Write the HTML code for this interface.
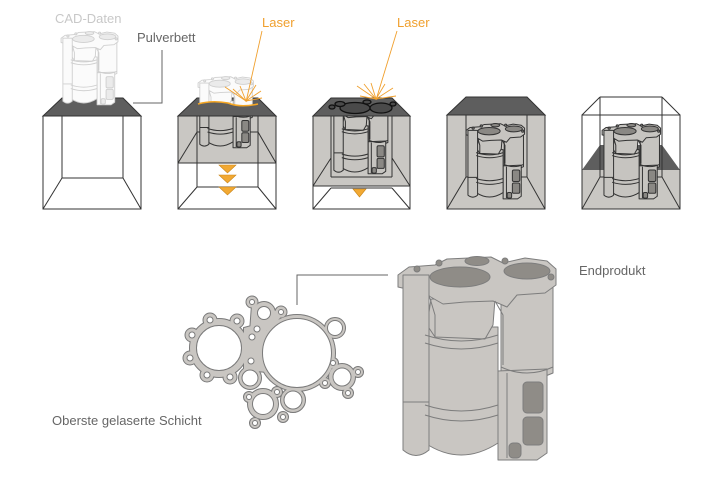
<!DOCTYPE html>
<html><head><meta charset="utf-8"><style>
html,body{margin:0;padding:0;background:#fff;}
svg{display:block;}
text{font-family:"Liberation Sans",Arial,sans-serif;font-size:13px;}
</style></head><body>
<svg width="720" height="480" viewBox="0 0 720 480" xmlns="http://www.w3.org/2000/svg">
<defs>
<g id="part" stroke-linejoin="round">
  <path d="M106,22 L106,118 Q132,130 158,118 L158,22 Z"/>
  <path d="M103,116 L152,114 L152,198 L142,205 L103,205 Z"/>
  <path d="M30,72 L30,188 Q66,212 103,188 L103,72 Z"/>
  <path d="M36,44 L100,44 L98,70 L90,84 L40,82 L32,70 Z"/>
  <path d="M3,20 L14,12 L40,10 L52,4 L96,2 L108,8 L130,3 L152,6 L161,14 L161,30 L150,38 L122,40 L112,52 L98,46 L70,47 L48,49 L34,41 L20,36 L3,32 Z"/>
  <path d="M8,20 L34,20 L34,195 Q21,206 8,195 Z"/>
  <path fill="none" d="M30,80 Q66,92 103,80 M30,88 Q66,100 103,88 M30,150 Q66,162 103,150 M30,160 Q66,172 103,160 M8,147 L34,147 M106,112 Q132,124 158,112 M112,118 L112,203 M34,40 L40,60 L40,82 M100,46 L108,60 L108,110"/>
  <ellipse cx="65" cy="22" rx="30" ry="10" style="fill:var(--dk)"/>
  <ellipse cx="132" cy="16" rx="23" ry="8" style="fill:var(--dk)"/>
  <ellipse cx="82" cy="6" rx="12" ry="4.5" style="fill:var(--dk)"/>
  <rect x="128" y="127" width="20" height="31" rx="4" style="fill:var(--dk)"/>
  <rect x="128" y="162" width="20" height="28" rx="4" style="fill:var(--dk)"/>
  <rect x="114" y="188" width="12" height="15" rx="4" style="fill:var(--dk)"/>
  <circle cx="22" cy="14" r="3" style="fill:var(--dk)"/>
  <circle cx="44" cy="8" r="3" style="fill:var(--dk)"/>
  <circle cx="110" cy="6" r="3" style="fill:var(--dk)"/>
  <circle cx="156" cy="22" r="3" style="fill:var(--dk)"/>
</g>
<clipPath id="c2top"><path d="M170,0 H290 V104 Q270,100 258,104 Q240,108 228,103 Q212,100 198,104 H170 Z"/></clipPath>
<clipPath id="c2in"><rect x="178" y="116" width="98" height="47"/></clipPath>
<clipPath id="c3in"><rect x="313" y="116" width="97" height="70"/></clipPath>
</defs>

<!-- Texts -->
<text x="55" y="23" fill="#c8c8c8">CAD-Daten</text>
<text x="137" y="42" fill="#666">Pulverbett</text>
<text x="262" y="27" fill="#f0a02e">Laser</text>
<text x="397" y="27" fill="#f0a02e">Laser</text>
<text x="579" y="275" fill="#666">Endprodukt</text>
<text x="52" y="425" fill="#666">Oberste gelaserte Schicht</text>

<!-- Pulverbett connector -->
<polyline points="133,103 162,103 162,50" fill="none" stroke="#666" stroke-width="1"/>

<!-- BOX 1 -->
<g stroke="#333" stroke-width="1" fill="none">
  <rect x="43" y="116" width="98" height="93" fill="#fff"/>
  <line x1="62" y1="116" x2="62" y2="178"/><line x1="123" y1="116" x2="123" y2="178"/>
  <line x1="62" y1="178" x2="123" y2="178"/>
  <line x1="43" y1="209" x2="62" y2="178"/><line x1="141" y1="209" x2="123" y2="178"/>
  <polygon points="62,98 123,98 141,116 43,116" fill="#5e5e5e"/>
</g>
<use href="#part" transform="translate(60,31) scale(0.36)" fill="#fbfbfb" stroke="#cfcfcf" stroke-width="2.5" style="--dk:#ebebeb"/>

<!-- BOX 2 -->
<g stroke="#333" stroke-width="1" fill="none">
  <rect x="178" y="116" width="98" height="93" fill="#fff"/>
  <rect x="178" y="116" width="98" height="47" fill="#c9c7c3" stroke="none"/>
  <line x1="197" y1="116" x2="197" y2="187"/><line x1="258" y1="116" x2="258" y2="187"/>
  <line x1="197" y1="132" x2="258" y2="132"/>
  <line x1="178" y1="163" x2="197" y2="132"/><line x1="276" y1="163" x2="258" y2="132"/>
  <line x1="178" y1="163" x2="276" y2="163"/>
  <line x1="197" y1="187" x2="258" y2="187"/>
  <line x1="178" y1="209" x2="197" y2="187"/><line x1="276" y1="209" x2="258" y2="187"/>
</g>
<g clip-path="url(#c2in)">
  <use href="#part" transform="translate(197,76) scale(0.35)" fill="#c6c4c0" stroke="#333" stroke-width="2.8" style="--dk:#8a8884"/>
</g>
<rect x="178" y="116" width="98" height="93" fill="none" stroke="#333"/>
<polygon points="197,98 258,98 276,116 178,116" fill="#5e5e5e" stroke="#333"/>
<g clip-path="url(#c2top)">
  <use href="#part" transform="translate(197,76) scale(0.35)" fill="#fbfbfb" stroke="#cfcfcf" stroke-width="2.5" style="--dk:#ebebeb"/>
</g>
<path d="M198,104 Q212,100 228,103 Q240,108 258,104" fill="none" stroke="#f5a623" stroke-width="1.5"/>
<g fill="#f2a933" stroke="#c98518" stroke-width="0.6">
  <polygon points="219,165 236,165 227.5,173"/>
  <polygon points="219,175 236,175 227.5,183"/>
  <polygon points="219,187 236,187 227.5,195"/>
</g>
<g stroke="#f0a02e" stroke-width="0.9">
  <line x1="262" y1="31" x2="246" y2="102"/>
  <line x1="246" y1="101" x2="225" y2="87"/>
  <line x1="246" y1="101" x2="233" y2="89"/>
  <line x1="246" y1="101" x2="240" y2="86"/>
  <line x1="246" y1="101" x2="256" y2="85"/>
  <line x1="246" y1="101" x2="261" y2="91"/>
  <line x1="246" y1="101" x2="262" y2="98"/>
</g>

<!-- BOX 3 -->
<g stroke="#333" stroke-width="1" fill="none">
  <rect x="313" y="116" width="97" height="93" fill="#fff"/>
  <rect x="313" y="116" width="97" height="70" fill="#c9c7c3" stroke="none"/>
  <line x1="331" y1="116" x2="331" y2="177"/><line x1="392" y1="116" x2="392" y2="177"/>
  <line x1="331" y1="177" x2="392" y2="177"/>
  <line x1="313" y1="186" x2="331" y2="158"/><line x1="410" y1="186" x2="392" y2="158"/>
  <line x1="313" y1="186" x2="410" y2="186"/>
  <line x1="331" y1="188" x2="392" y2="188"/>
  <line x1="313" y1="209" x2="331" y2="188"/><line x1="410" y1="209" x2="392" y2="188"/>
</g>
<g clip-path="url(#c3in)">
  <use href="#part" transform="translate(331,100) scale(0.36)" fill="#c6c4c0" stroke="#333" stroke-width="2.8" style="--dk:#8a8884"/>
</g>
<rect x="313" y="116" width="97" height="93" fill="none" stroke="#333"/>
<polygon points="331,98 392,98 410,116 313,116" fill="#5e5e5e" stroke="#333"/>
<g fill="#4a4a4a" stroke="#111" stroke-width="1.3">
  <ellipse cx="355" cy="108" rx="15" ry="5.5"/>
  <ellipse cx="381" cy="108" rx="11" ry="5"/>
  <ellipse cx="340" cy="104" rx="5" ry="2.5"/>
  <ellipse cx="332" cy="107" rx="3" ry="2"/>
  <ellipse cx="367" cy="102" rx="4" ry="2"/>
  <ellipse cx="393" cy="104" rx="3" ry="2"/>
</g>
<polygon points="353,189 366,189 359.5,197" fill="#f2a933" stroke="#c98518" stroke-width="0.6"/>
<g stroke="#f0a02e" stroke-width="0.9">
  <line x1="397" y1="31" x2="376" y2="100"/>
  <line x1="376" y1="99" x2="357" y2="86"/>
  <line x1="376" y1="99" x2="364" y2="84"/>
  <line x1="376" y1="99" x2="371" y2="83"/>
  <line x1="376" y1="99" x2="385" y2="84"/>
  <line x1="376" y1="99" x2="393" y2="88"/>
  <line x1="376" y1="99" x2="396" y2="96"/>
  <line x1="376" y1="99" x2="360" y2="96"/>
</g>

<!-- BOX 4 -->
<g stroke="#333" stroke-width="1" fill="none">
  <rect x="447" y="115" width="98" height="94" fill="#c9c7c3"/>
  <line x1="466" y1="115" x2="466" y2="177"/><line x1="527" y1="115" x2="527" y2="177"/>
  <line x1="466" y1="177" x2="527" y2="177"/>
  <line x1="447" y1="209" x2="466" y2="177"/><line x1="545" y1="209" x2="527" y2="177"/>
</g>
<use href="#part" transform="translate(465,123) scale(0.37)" fill="#c6c4c0" stroke="#333" stroke-width="2.7" style="--dk:#8a8884"/>
<rect x="447" y="115" width="98" height="94" fill="none" stroke="#333"/>
<polygon points="466,97 527,97 545,115 447,115" fill="#5e5e5e" stroke="#333"/>

<!-- BOX 5 -->
<g stroke="#333" stroke-width="1" fill="none">
  <rect x="582" y="115" width="98" height="94" fill="#fff"/>
  <polygon points="600,145 662,145 680,170 582,170" fill="#5e5e5e" stroke="none"/>
  <rect x="582" y="170" width="98" height="39" fill="#c9c7c3" stroke="none"/>
  <line x1="600" y1="97" x2="662" y2="97"/>
  <line x1="582" y1="115" x2="600" y2="97"/><line x1="680" y1="115" x2="662" y2="97"/>
  <line x1="600" y1="97" x2="600" y2="177"/><line x1="662" y1="97" x2="662" y2="177"/>
  <line x1="600" y1="177" x2="662" y2="177"/>
  <line x1="582" y1="209" x2="600" y2="177"/><line x1="680" y1="209" x2="662" y2="177"/>
</g>
<use href="#part" transform="translate(601,123) scale(0.37)" fill="#c6c4c0" stroke="#333" stroke-width="2.7" style="--dk:#8a8884"/>
<rect x="582" y="115" width="98" height="94" fill="none" stroke="#333"/>

<!-- Gasket connector -->
<polyline points="297,305 297,275 388,275" fill="none" stroke="#666" stroke-width="1"/>

<!-- Gasket -->
<g id="gout">
  <circle cx="297" cy="353" r="38"/>
  <circle cx="219" cy="348" r="29"/>
  <circle cx="210" cy="320" r="6.5"/><circle cx="237" cy="321" r="6.5"/>
  <circle cx="192" cy="335" r="6.5"/><circle cx="190" cy="358" r="6.5"/>
  <circle cx="207" cy="375" r="6.5"/><circle cx="230" cy="377" r="6.5"/>
  <circle cx="252" cy="337" r="6"/><circle cx="251" cy="361" r="6"/>
  <circle cx="257" cy="329" r="6"/>
  <polygon points="244,328 266,322 268,372 244,370"/>
  <circle cx="264" cy="313" r="11"/>
  <circle cx="252" cy="302" r="5.5"/><circle cx="281" cy="312" r="5.5"/>
  <polygon points="252,305 284,313 270,330 250,332"/>
  <circle cx="335" cy="328" r="10"/>
  <circle cx="342" cy="377" r="13"/>
  <circle cx="358" cy="372" r="5"/><circle cx="348" cy="393" r="5"/>
  <circle cx="325" cy="383" r="5"/><circle cx="333" cy="363" r="5"/>
  <circle cx="263" cy="404" r="15"/>
  <circle cx="249" cy="397" r="5"/><circle cx="277" cy="392" r="5"/>
  <circle cx="283" cy="417" r="5"/><circle cx="255" cy="423" r="5"/>
  <circle cx="293" cy="400" r="12"/>
  <circle cx="250" cy="378" r="11"/>
</g>
<use href="#gout" fill="none" stroke="#7a7a7a" stroke-width="2"/>
<use href="#gout" fill="#c9c6c2" stroke="none"/>
<g fill="#fff" stroke="#7a7a7a" stroke-width="1">
  <circle cx="297" cy="353" r="34.5"/>
  <circle cx="219" cy="348" r="22.5"/>
  <circle cx="210" cy="320" r="3"/><circle cx="237" cy="321" r="3"/>
  <circle cx="192" cy="335" r="3"/><circle cx="190" cy="358" r="3"/>
  <circle cx="207" cy="375" r="3"/><circle cx="230" cy="377" r="3"/>
  <circle cx="252" cy="337" r="3"/><circle cx="251" cy="361" r="3"/>
  <circle cx="257" cy="329" r="3"/>
  <circle cx="264" cy="313" r="6.5"/>
  <circle cx="252" cy="302" r="2.5"/><circle cx="281" cy="312" r="2.5"/>
  <circle cx="335" cy="328" r="7.5"/>
  <circle cx="342" cy="377" r="9"/>
  <circle cx="358" cy="372" r="2.5"/><circle cx="348" cy="393" r="2.5"/>
  <circle cx="325" cy="383" r="2.5"/><circle cx="333" cy="363" r="2.5"/>
  <circle cx="263" cy="404" r="10.5"/>
  <circle cx="249" cy="397" r="2.5"/><circle cx="277" cy="392" r="2.5"/>
  <circle cx="283" cy="417" r="2.5"/><circle cx="255" cy="423" r="2.5"/>
  <circle cx="293" cy="400" r="9"/>
  <circle cx="250" cy="378" r="8"/>
</g>

<!-- Endprodukt -->
<use href="#part" transform="translate(395,255)" fill="#c9c6c2" stroke="#7d7d7d" stroke-width="1" style="--dk:#8f8c87"/>
</svg>
</body></html>
